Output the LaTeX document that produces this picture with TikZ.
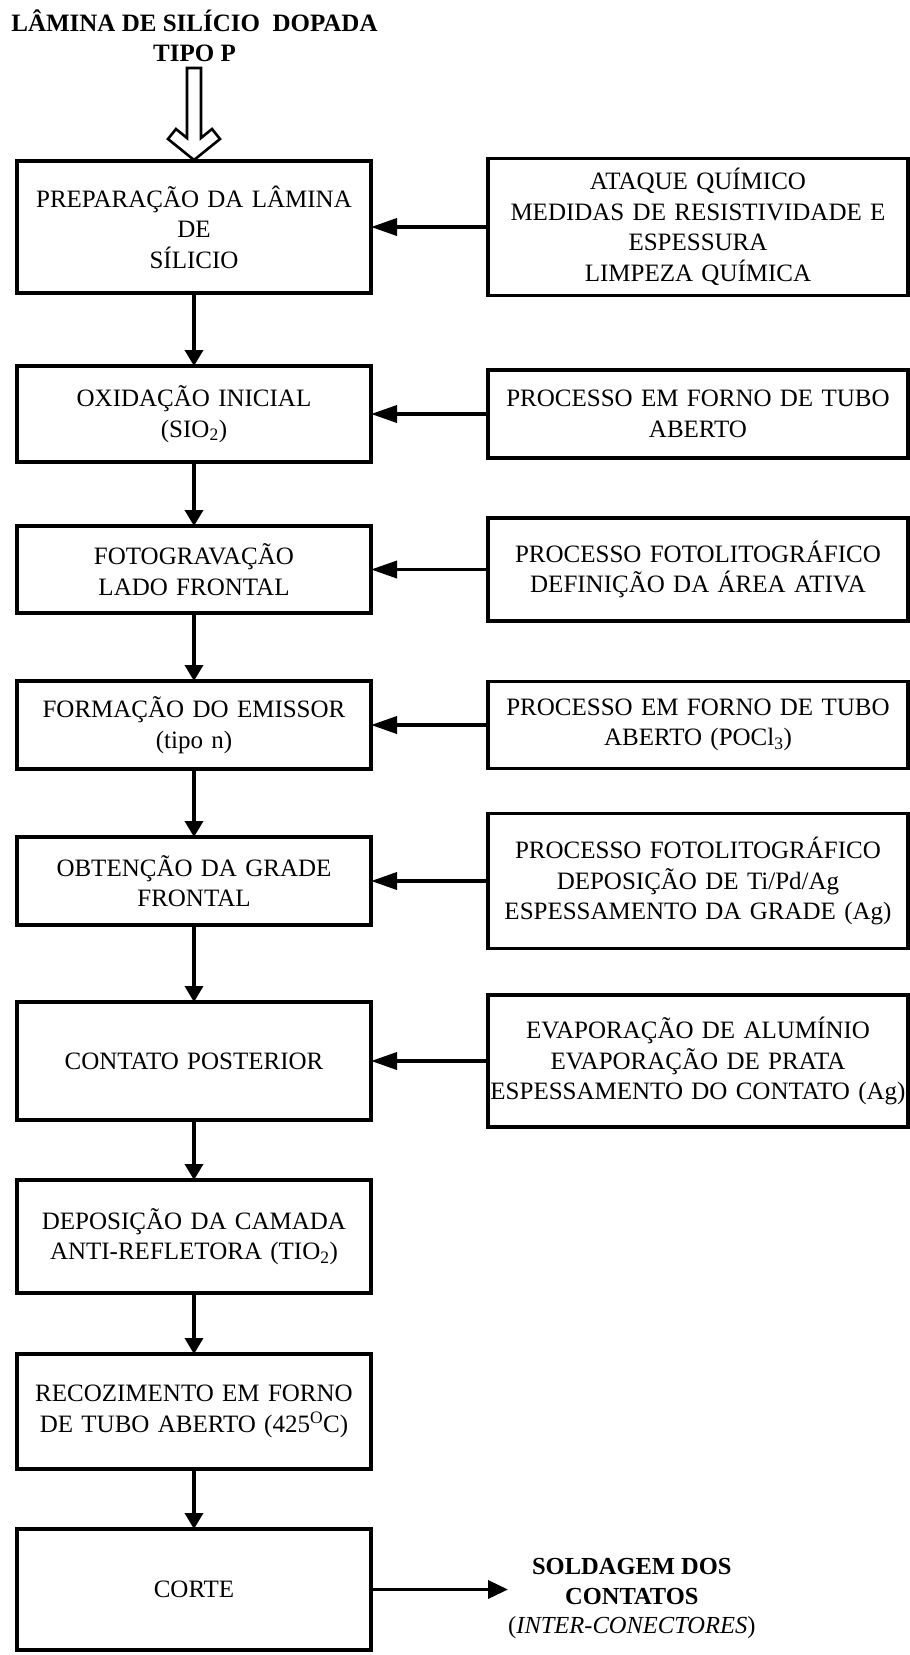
\documentclass[tikz,border=0pt]{standalone}
\usepackage{fontspec}
\setmainfont{Liberation Serif}
\usetikzlibrary{arrows.meta,positioning}

\begin{document}
\begin{tikzpicture}[x=1pt,y=1pt,
  etapa/.style={draw,line width=3.3pt,outer sep=0pt,inner xsep=2pt,inner ysep=0pt,
    text width=350pt,align=center,font=\fontsize{25}{30.5}\selectfont},
  processo/.style={etapa,text width=416pt},
  seta/.style={line width=3.6pt,-{Triangle[length=16pt,width=18pt]}},
  setalat/.style={line width=3.6pt,-{Triangle[length=26pt,width=17pt]}},
  oca/.style={line width=2.6pt,line join=miter,fill=white}]
  \useasboundingbox (0,0) rectangle (910,-1655);

  \node[font=\bfseries\fontsize{25}{30}\selectfont,align=center,inner sep=0pt] (lamina) at (194.5,-36) {LÂMINA DE SILÍCIO\ \ DOPADA\\TIPO P};

  % coluna das etapas
  \node[etapa,minimum height=132pt] (prep) at (194,-227) {PREPARAÇÃO DA LÂMINA\\DE\\SÍLICIO};
  \node[etapa,minimum height=96pt,below=73pt of prep] (oxid) {OXIDAÇÃO INICIAL\\(SIO\textsubscript{2})};
  \node[etapa,minimum height=87pt,below=64pt of oxid] (foto) {FOTOGRAVAÇÃO\\LADO FRONTAL};
  \node[etapa,minimum height=88pt,below=68pt of foto] (emissor) {FORMAÇÃO DO EMISSOR\\(tipo n)};
  \node[etapa,minimum height=88pt,below=68pt of emissor] (grade) {OBTENÇÃO DA GRADE\\FRONTAL};
  \node[etapa,minimum height=118pt,below=77pt of grade] (contato) {CONTATO POSTERIOR};
  \node[etapa,minimum height=113pt,below=60pt of contato] (camada) {DEPOSIÇÃO DA CAMADA\\ANTI-REFLETORA (TIO\textsubscript{2})};
  \node[etapa,minimum height=115pt,below=61pt of camada] (recoz) {RECOZIMENTO EM FORNO\\DE TUBO ABERTO (425\textsuperscript{O}C)};
  \node[etapa,minimum height=121pt,below=60pt of recoz] (corte) {CORTE};

  % coluna dos processos
  \node[processo,minimum height=137pt,right=117pt of prep] (ataque) {ATAQUE QUÍMICO\\MEDIDAS DE RESISTIVIDADE E\\ESPESSURA\\LIMPEZA QUÍMICA};
  \node[processo,minimum height=88pt,right=117pt of oxid] (forno) {PROCESSO EM FORNO DE TUBO\\ABERTO};
  \node[processo,minimum height=103pt,right=117pt of foto] (litoa) {PROCESSO FOTOLITOGRÁFICO\\DEFINIÇÃO DA ÁREA ATIVA};
  \node[processo,minimum height=87pt,right=117pt of emissor] (pocl) {PROCESSO EM FORNO DE TUBO\\ABERTO (POCl\textsubscript{3})};
  \node[processo,minimum height=135pt,right=117pt of grade] (litob) {PROCESSO FOTOLITOGRÁFICO\\DEPOSIÇÃO DE Ti/Pd/Ag\\ESPESSAMENTO DA GRADE (Ag)};
  \node[processo,minimum height=132pt,right=117pt of contato] (evap) {EVAPORAÇÃO DE ALUMÍNIO\\EVAPORAÇÃO DE PRATA\\ESPESSAMENTO DO CONTATO (Ag)};

  \node[right=137pt of corte,yshift=-9pt,align=center,inner sep=0pt,font=\fontsize{24.5}{29.5}\selectfont] (solda) {\textbf{SOLDAGEM DOS}\\\textbf{CONTATOS}\\(\textit{INTER-CONECTORES})};

  % seta vazada de entrada
  \draw[oca] (prep.north) ++(0,1) -- ++(-26,21) -- ++(8,10) -- ++(11,-9) -- ++(0,70) -- ++(14,0)
    -- ++(0,-70) -- ++(11,9) -- ++(8,-10) -- cycle;

  \path[seta] (prep) edge (oxid)
        (oxid) edge (foto)
        (foto) edge (emissor)
        (emissor) edge (grade)
        (grade) edge (contato)
        (contato) edge (camada)
        (camada) edge (recoz)
        (recoz) edge (corte);

  \path[setalat] (ataque) edge (prep)
        (forno) edge (oxid)
        (litoa) edge (foto)
        (pocl) edge (emissor)
        (litob) edge (grade)
        (evap) edge (contato);

  \draw[line width=3.6pt,-{Triangle[length=20pt,width=18pt]}] (corte.east) -- (corte.east -| solda.west);
\end{tikzpicture}
\end{document}
